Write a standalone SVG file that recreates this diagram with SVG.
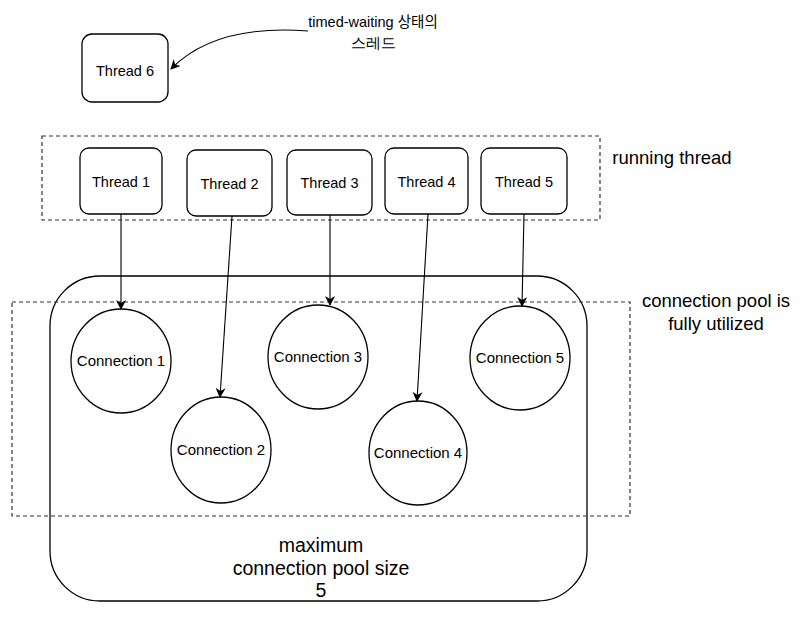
<svg xmlns="http://www.w3.org/2000/svg" width="800" height="619" viewBox="0 0 800 619">
<defs>
<marker id="arr" viewBox="0 0 10 10" refX="9" refY="5" markerWidth="10" markerHeight="10" markerUnits="userSpaceOnUse" orient="auto">
<path d="M0,0 L10,5 L0,10 L3,5 Z" fill="#000"/>
</marker>
</defs>
<style>
text{font-family:"Liberation Sans",Arial,sans-serif;fill:#000;text-anchor:middle}
.node{fill:#fff;stroke:#000;stroke-width:1.3}
.dash{fill:none;stroke:#333;stroke-width:1.2;stroke-dasharray:4 3}
.lbl{font-size:14.5px}
.conn{font-size:15px}
.big{font-size:18.5px}
.pool{font-size:19.5px}
.edge{fill:none;stroke:#000;stroke-width:1.1;marker-end:url(#arr)}
</style>
<rect width="800" height="619" fill="#fff"/>
<g id="pool">
<rect x="50" y="276" width="537" height="325" rx="50" ry="50" fill="#fff" stroke="#000" stroke-width="1.3"/>
<text class="pool" x="321" y="552">maximum</text>
<text class="pool" x="321" y="575">connection pool size</text>
<text class="pool" x="321" y="597">5</text>
</g>
<g id="running-group">
<rect class="dash" x="42" y="136" width="558" height="84"/>
<text class="big" x="672" y="164">running thread</text>
</g>
<g id="full-group">
<rect class="dash" x="12" y="302" width="618" height="214"/>
<text class="big" x="716" y="307">connection pool is</text>
<text class="big" x="716" y="330">fully utilized</text>
</g>
<g id="thread6">
<rect class="node" x="82" y="34" width="86" height="68" rx="10"/>
<text class="lbl" x="125" y="76">Thread 6</text>
</g>
<g id="note">
<text class="lbl" x="373" y="27">timed-waiting <tspan font-family="'Noto Sans CJK KR',sans-serif">상태의</tspan></text>
<text class="lbl" x="373" y="48" font-family="'Noto Sans CJK KR',sans-serif">스레드</text>
</g>
<g id="thread1"><rect class="node" x="80" y="148" width="82" height="66" rx="9"/><text class="lbl" x="121" y="187">Thread 1</text></g>
<g id="thread2"><rect class="node" x="187" y="150" width="85" height="66" rx="9"/><text class="lbl" x="229.5" y="189">Thread 2</text></g>
<g id="thread3"><rect class="node" x="287" y="150" width="85" height="65" rx="9"/><text class="lbl" x="329.5" y="188">Thread 3</text></g>
<g id="thread4"><rect class="node" x="385" y="148" width="83" height="66" rx="9"/><text class="lbl" x="426.5" y="187">Thread 4</text></g>
<g id="thread5"><rect class="node" x="481" y="148" width="86" height="66" rx="9"/><text class="lbl" x="524" y="187">Thread 5</text></g>
<g id="conn1"><ellipse class="node" cx="121" cy="361" rx="50" ry="52"/><text class="conn" x="121" y="366">Connection 1</text></g>
<g id="conn2"><ellipse class="node" cx="221" cy="450" rx="50" ry="53"/><text class="conn" x="221" y="455">Connection 2</text></g>
<g id="conn3"><ellipse class="node" cx="318" cy="357" rx="50" ry="52"/><text class="conn" x="318" y="362">Connection 3</text></g>
<g id="conn4"><ellipse class="node" cx="418" cy="453" rx="49" ry="52"/><text class="conn" x="418" y="458">Connection 4</text></g>
<g id="conn5"><ellipse class="node" cx="520" cy="358" rx="50" ry="52"/><text class="conn" x="520" y="363">Connection 5</text></g>
<g id="connectors">
<path class="edge" d="M308,31 Q215,24 171,69"/>
<path class="edge" d="M121,214 L121,309"/>
<path class="edge" d="M232,216 L220,397"/>
<path class="edge" d="M330,215 L330,305"/>
<path class="edge" d="M428,214 L417,401"/>
<path class="edge" d="M524,214 L522,306"/>
</g>
</svg>
